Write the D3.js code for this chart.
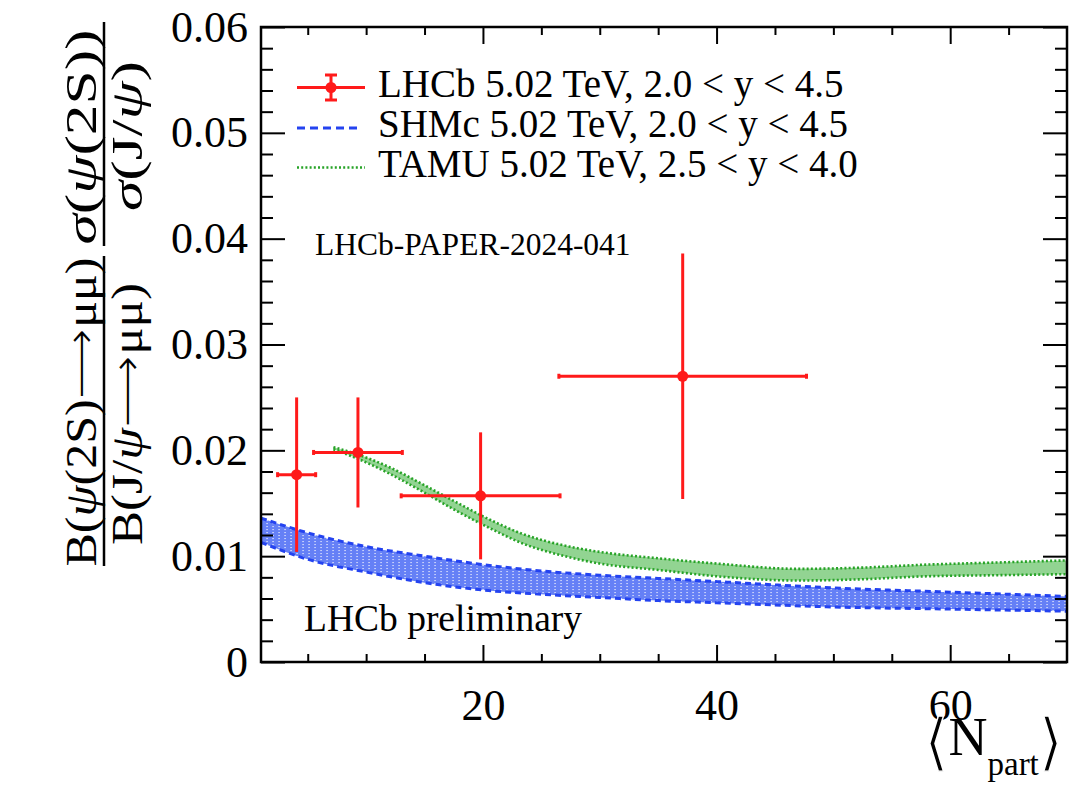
<!DOCTYPE html>
<html>
<head>
<meta charset="utf-8">
<script src="https://cdn.jsdelivr.net/npm/d3@7"></script>
<style>
  html, body { margin: 0; padding: 0; background: #fff; }
  svg { display: block; }
  text { font-family: "Liberation Serif", "Times New Roman", serif; fill: #000; }
</style>
</head>
<body>
<svg id="chart" width="1071" height="786"></svg>
<script>
// ---- axis ranges and tick labels ----
const nPartRange = [1, 70];
const ratioRange = [0, 0.06];
const yMajorTicks = [0, 0.01, 0.02, 0.03, 0.04, 0.05, 0.06];
const yTickLabels = ["0", "0.01", "0.02", "0.03", "0.04", "0.05", "0.06"];
const xMajorTicks = [20, 40, 60];
const xTickLabels = ["20", "40", "60"];

// ---- LHCb measurement: <Npart>, ratio, uncertainties ----
const lhcbNpart = [4.05, 9.3, 19.8, 37.1];
const lhcbNpartErr = [1.63, 3.8, 6.8, 10.6];
const lhcbRatio = [0.0177, 0.0198, 0.0157, 0.0270];
const lhcbRatioErr = [0.0073, 0.0052, 0.0060, 0.0116];

// ---- SHMc prediction band ----
const shmcNpart = [1, 5, 10, 15, 20, 25, 30, 35, 40, 50, 60, 70];
const shmcHigh = [0.0136, 0.0122, 0.0109, 0.0100, 0.0092, 0.0086, 0.0082, 0.0079, 0.0076, 0.0070, 0.0066, 0.0062];
const shmcLow  = [0.0113, 0.0097, 0.0085, 0.0075, 0.0068, 0.0064, 0.0061, 0.0058, 0.0056, 0.0052, 0.0050, 0.0048];

// ---- TAMU prediction band ----
const tamuNpart = [7.2, 9.3, 12, 15, 17.7, 20.5, 23.4, 27, 30, 35, 40, 47, 52, 58, 64, 70];
const tamuHigh = [0.0203, 0.0196, 0.0184, 0.0167, 0.0151, 0.0135, 0.0121, 0.0110, 0.0104, 0.0098, 0.0093, 0.0088, 0.0089, 0.0092, 0.0094, 0.0096];
const tamuLow  = [0.0201, 0.0192, 0.0178, 0.0160, 0.0143, 0.0127, 0.0112, 0.0100, 0.0093, 0.0087, 0.0081, 0.0077, 0.0078, 0.0081, 0.0082, 0.0083];

// ---- legend entries ----
const legendLabels = [
  "LHCb 5.02 TeV, 2.0 < y < 4.5",
  "SHMc 5.02 TeV, 2.0 < y < 4.5",
  "TAMU 5.02 TeV, 2.5 < y < 4.0"
];

const RED = "#ff1a1a", BLUE = "#2443f0", BLUE_FILL = "#6580f6", GREEN = "#27a327", GREEN_FILL = "#7fcd7f";

const svg = d3.select("#chart");
const frame = { left: 261, right: 1067, top: 27, bottom: 662 };

const x = d3.scaleLinear().domain(nPartRange).range([frame.left, frame.right]);
const y = d3.scaleLinear().domain(ratioRange).range([frame.bottom, frame.top]);

// fill pattern for the SHMc band
const defs = svg.append("defs");
const pat = defs.append("pattern").attr("id", "shmcPattern")
  .attr("patternUnits", "userSpaceOnUse").attr("width", 6).attr("height", 3);
pat.append("rect").attr("width", 6).attr("height", 3).attr("fill", BLUE_FILL);
pat.append("rect").attr("x", 2.5).attr("y", 1).attr("width", 1.1).attr("height", 1.1).attr("fill", "#fff");

defs.append("clipPath").attr("id", "frameClip").append("rect")
  .attr("x", frame.left).attr("y", frame.top)
  .attr("width", frame.right - frame.left).attr("height", frame.bottom - frame.top);

const plot = svg.append("g").attr("clip-path", "url(#frameClip)");

// ---- SHMc band ----
const shmc = shmcNpart.map((n, i) => ({ n, lo: shmcLow[i], hi: shmcHigh[i] }));
const bandArea = d3.area().x(d => x(d.n)).y0(d => y(d.lo)).y1(d => y(d.hi)).curve(d3.curveMonotoneX);
const hiLine = d3.line().x(d => x(d.n)).y(d => y(d.hi)).curve(d3.curveMonotoneX);
const loLine = d3.line().x(d => x(d.n)).y(d => y(d.lo)).curve(d3.curveMonotoneX);

plot.append("path").datum(shmc).attr("d", bandArea).attr("fill", "url(#shmcPattern)");
[hiLine, loLine].forEach(l => plot.append("path").datum(shmc).attr("d", l)
  .attr("fill", "none").attr("stroke", BLUE).attr("stroke-width", 3).attr("stroke-dasharray", "6,4"));

// ---- TAMU band ----
const tamu = tamuNpart.map((n, i) => ({ n, lo: tamuLow[i], hi: tamuHigh[i] }));
plot.append("path").datum(tamu).attr("d", bandArea).attr("fill", GREEN_FILL).attr("fill-opacity", 0.85);
[hiLine, loLine].forEach(l => plot.append("path").datum(tamu).attr("d", l)
  .attr("fill", "none").attr("stroke", GREEN).attr("stroke-width", 2.6).attr("stroke-dasharray", "2,2.2"));

// ---- LHCb points with error bars ----
const lhcb = lhcbNpart.map((n, i) => ({ n, ex: lhcbNpartErr[i], r: lhcbRatio[i], ey: lhcbRatioErr[i] }));
const pts = plot.append("g").selectAll("g").data(lhcb).join("g");
pts.append("line").attr("x1", d => x(d.n - d.ex)).attr("x2", d => x(d.n + d.ex))
  .attr("y1", d => y(d.r)).attr("y2", d => y(d.r)).attr("stroke", RED).attr("stroke-width", 3);
pts.append("line").attr("x1", d => x(d.n)).attr("x2", d => x(d.n))
  .attr("y1", d => y(d.r - d.ey)).attr("y2", d => y(d.r + d.ey)).attr("stroke", RED).attr("stroke-width", 3);
pts.each(function (d) {
  const g = d3.select(this);
  [d.n - d.ex, d.n + d.ex].forEach(v => g.append("line")
    .attr("x1", x(v)).attr("x2", x(v)).attr("y1", y(d.r) - 2.5).attr("y2", y(d.r) + 2.5)
    .attr("stroke", RED).attr("stroke-width", 3));
});
pts.append("circle").attr("cx", d => x(d.n)).attr("cy", d => y(d.r)).attr("r", 5.5).attr("fill", RED);

// ---- axes: ticks pointing into the frame ----
const axisStyle = g => {
  g.select(".domain").remove();
  g.selectAll(".tick line").attr("stroke", "#000").attr("stroke-width", 2);
  g.selectAll("text").style("font-family", "'Liberation Serif', serif").style("font-size", "44px").attr("fill", "#000");
};
const yMinor = d3.range(0, 0.0601, 0.002).filter(v => Math.abs(Math.round(v * 100) - v * 100) > 1e-6);
const xMinor = d3.range(5, 70, 5).filter(v => !xMajorTicks.includes(v));

// left
svg.append("g").attr("transform", `translate(${frame.left},0)`)
  .call(d3.axisLeft(y).tickValues(yMajorTicks).tickSize(-24).tickPadding(13)
    .tickFormat((d, i) => yTickLabels[i])).call(axisStyle);
svg.append("g").attr("transform", `translate(${frame.left},0)`)
  .call(d3.axisLeft(y).tickValues(yMinor).tickSize(-12).tickFormat("")).call(axisStyle);
// right
svg.append("g").attr("transform", `translate(${frame.right},0)`)
  .call(d3.axisRight(y).tickValues(yMajorTicks).tickSize(-24).tickFormat("")).call(axisStyle);
svg.append("g").attr("transform", `translate(${frame.right},0)`)
  .call(d3.axisRight(y).tickValues(yMinor).tickSize(-12).tickFormat("")).call(axisStyle);
// bottom
svg.append("g").attr("transform", `translate(0,${frame.bottom})`)
  .call(d3.axisBottom(x).tickValues(xMajorTicks).tickSize(-17).tickPadding(27)
    .tickFormat((d, i) => xTickLabels[i])).call(axisStyle);
svg.append("g").attr("transform", `translate(0,${frame.bottom})`)
  .call(d3.axisBottom(x).tickValues(xMinor).tickSize(-8).tickFormat("")).call(axisStyle);
// top
svg.append("g").attr("transform", `translate(0,${frame.top})`)
  .call(d3.axisTop(x).tickValues(xMajorTicks).tickSize(-17).tickFormat("")).call(axisStyle);
svg.append("g").attr("transform", `translate(0,${frame.top})`)
  .call(d3.axisTop(x).tickValues(xMinor).tickSize(-8).tickFormat("")).call(axisStyle);

// frame
svg.append("rect").attr("x", frame.left).attr("y", frame.top)
  .attr("width", frame.right - frame.left).attr("height", frame.bottom - frame.top)
  .attr("fill", "none").attr("stroke", "#000").attr("stroke-width", 2.5);

// ---- legend ----
const leg = svg.append("g");
const legX0 = 297, legX1 = 365, legTextX = 378, legY = [87.5, 128, 167.5];
leg.append("line").attr("x1", legX0).attr("x2", legX1).attr("y1", legY[0]).attr("y2", legY[0])
  .attr("stroke", RED).attr("stroke-width", 3);
leg.append("line").attr("x1", 331).attr("x2", 331).attr("y1", legY[0] - 12.5).attr("y2", legY[0] + 12.5)
  .attr("stroke", RED).attr("stroke-width", 3);
[-12.5, 12.5].forEach(dy => leg.append("line").attr("x1", 325).attr("x2", 337)
  .attr("y1", legY[0] + dy).attr("y2", legY[0] + dy).attr("stroke", RED).attr("stroke-width", 3));
leg.append("circle").attr("cx", 331).attr("cy", legY[0]).attr("r", 5.5).attr("fill", RED);
leg.append("line").attr("x1", legX0).attr("x2", legX1 - 3).attr("y1", legY[1]).attr("y2", legY[1])
  .attr("stroke", BLUE).attr("stroke-width", 3).attr("stroke-dasharray", "8,5");
leg.append("line").attr("x1", legX0).attr("x2", legX1).attr("y1", legY[2]).attr("y2", legY[2])
  .attr("stroke", GREEN).attr("stroke-width", 2.6).attr("stroke-dasharray", "2,2.2");
leg.selectAll("text.leg").data(legendLabels).join("text").attr("class", "leg")
  .attr("x", legTextX).attr("y", (d, i) => legY[i] + 9)
  .attr("font-size", 39).text(d => d);

// ---- annotations ----
svg.append("text").attr("x", 315).attr("y", 255).attr("font-size", 31.5).text("LHCb-PAPER-2024-041");
svg.append("text").attr("x", 304).attr("y", 631).attr("font-size", 37.5).text("LHCb preliminary");

// thin-stroked glyphs: a white outline slims the heavy sans-serif symbols
const slim = sel => sel.attr("stroke", "#fff").attr("stroke-width", 1.4).attr("paint-order", "normal");

// ---- x-axis title ----
const xt = svg.append("text").attr("x", 1063).attr("y", 755).attr("text-anchor", "end").attr("font-size", 54);
const bracket = { size: 62, family: "'DejaVu Sans', sans-serif" };
xt.append("tspan").attr("font-size", bracket.size).attr("font-family", bracket.family)
  .attr("dy", 8).text("\u27E8").call(slim);
xt.append("tspan").attr("dy", -8).text("N");
xt.append("tspan").attr("font-size", 33).attr("dy", 20).text("part");
xt.append("tspan").attr("font-size", bracket.size).attr("font-family", bracket.family)
  .attr("dy", -12).text("\u27E9").call(slim);

// ---- y-axis title: two stacked fractions, rotated ----
function rotLabel(bx, cy, parts, size, len) {
  const t = svg.append("text").attr("transform", `translate(${bx},${cy}) rotate(-90)`)
    .attr("text-anchor", "middle").attr("font-size", size)
    .attr("textLength", len).attr("lengthAdjust", "spacingAndGlyphs");
  parts.forEach(p => {
    const s = t.append("tspan")
      .attr("font-style", p.it ? "italic" : null)
      .attr("font-family", p.sym ? "'DejaVu Sans', sans-serif" : null)
      .text(p.t);
    if (p.sym) s.call(slim);
  });
  return t;
}
const yTitleSize = 45;
const arrow = { t: "\u27F6", sym: true };
rotLabel(96, 412, [{ t: "B(" }, { t: "\u03C8", it: true }, { t: "(2S)" }, arrow, { t: "\u03BC\u03BC)" }], yTitleSize, 309);
rotLabel(142, 414, [{ t: "B(J/" }, { t: "\u03C8", it: true }, arrow, { t: "\u03BC\u03BC)" }], yTitleSize, 262);
rotLabel(96, 137, [{ t: "\u03C3", it: true }, { t: "(" }, { t: "\u03C8", it: true }, { t: "(2S))" }], yTitleSize, 215);
rotLabel(142, 136, [{ t: "\u03C3", it: true }, { t: "(J/" }, { t: "\u03C8", it: true }, { t: ")" }], yTitleSize, 150);
[[256, 566], [22, 246]].forEach(([a, b]) => svg.append("line")
  .attr("x1", 104).attr("x2", 104).attr("y1", a).attr("y2", b).attr("stroke", "#000").attr("stroke-width", 2.5));
</script>
</body>
</html>
